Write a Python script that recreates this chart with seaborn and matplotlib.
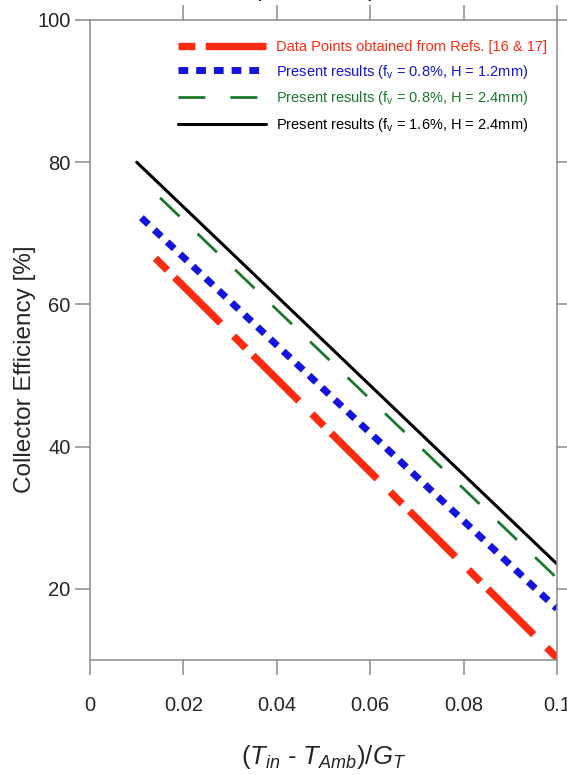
import matplotlib
matplotlib.use("Agg")
import matplotlib.pyplot as plt
import seaborn as sns
import pandas as pd

# ---- data ----
x_ref = [0.014, 0.1]
y_ref = [66.5, 10.3]
x_h12 = [0.011, 0.1]
y_h12 = [72.2, 17.2]
x_h24 = [0.015, 0.1]
y_h24 = [75.0, 21.5]
x_f16 = [0.010, 0.1]
y_f16 = [80.0, 23.5]

labels = [
    "Data Points obtained from Refs. [16 & 17]",
    r"Present results (f$_\mathregular{v}$ = 0.8%, H = 1.2mm)",
    r"Present results (f$_\mathregular{v}$ = 0.8%, H = 2.4mm)",
    r"Present results (f$_\mathregular{v}$ = 1.6%, H = 2.4mm)",
]
x_ticks = [0, 0.02, 0.04, 0.06, 0.08, 0.1]
x_ticklabels = ["0", "0.02", "0.04", "0.06", "0.08", "0.1"]
y_ticks = [20, 40, 60, 80, 100]
y_ticklabels = ["20", "40", "60", "80", "100"]

sns.set_style("white")
plt.rcParams["font.family"] = ["Liberation Sans", "DejaVu Sans"]
plt.rcParams["mathtext.fontset"] = "custom"
plt.rcParams["mathtext.rm"] = "Liberation Sans"
plt.rcParams["mathtext.it"] = "Liberation Sans:italic"

fig = plt.figure(figsize=(5.67, 7.75), dpi=100)
ax = fig.add_axes([90 / 567, 1 - 660 / 775, 467 / 567, 640 / 775])

red = "#ff2a10"
blue = "#1414dc"
green = "#1b7a2c"
black = "#000000"

series = [
    (x_ref, y_ref, labels[0], red, 5.3, (0, (2.3, 1.4, 8.8, 2.5))),
    (x_h12, y_h12, labels[1], blue, 5.0, (0, (1.4, 1.15))),
    (x_h24, y_h24, labels[2], green, 2.0, (0, (9.7, 9.0))),
    (x_f16, y_f16, labels[3], black, 2.2, "-"),
]
for xs, ys, lab, col, lw, ls in series:
    df = pd.DataFrame({"x": xs, "y": ys})
    sns.lineplot(data=df, x="x", y="y", ax=ax, color=col, lw=lw,
                 linestyle=ls, label=lab)

ax.set_xlim(0, 0.1)
ax.set_ylim(10, 100)
ax.set_xticks(x_ticks)
ax.set_xticklabels(x_ticklabels)
ax.set_yticks(y_ticks)
ax.set_yticklabels(y_ticklabels)

spine_col = "#8a8a8a"
for s in ax.spines.values():
    s.set_color(spine_col)
    s.set_linewidth(1.1)
    s.set_visible(True)

ax.tick_params(axis="x", direction="out", length=11, width=1.1, color=spine_col,
               pad=15, labelsize=14.5, bottom=True)
ax.tick_params(axis="y", direction="out", length=10.5, width=1.1, color=spine_col,
               pad=3.5, labelsize=14.5, left=True, right=True)

sec = ax.secondary_xaxis("top")
sec.set_xticks(x_ticks[1:])
sec.set_xticklabels([])
sec.tick_params(direction="out", length=11, width=1.1, color=spine_col)
sec.spines["top"].set_visible(False)

ax.set_ylabel("Collector Efficiency [%]", fontsize=17.5)
ax.yaxis.set_label_coords((36 - 90) / 467, (660 - 369) / 640)
ax.set_xlabel(r"$(T_{in}$ - $T_{Amb})/G_T$", fontsize=18.5, labelpad=20)

leg = ax.legend(loc="upper right", frameon=False, fontsize=10.5,
                handlelength=6.0, handletextpad=0.7, labelspacing=0.6,
                borderaxespad=0.3, bbox_to_anchor=(1.0, 0.985))
for txt, (_, _, _, col, _, _) in zip(leg.get_texts(), series):
    txt.set_color(col)

# cropped duplicate of the x-label peeking in at the very top of the image
fig.text(335 / 567, 1.0 + 4 / 775, r"$(T_{in}$ - $T_{Amb})/G_T$", fontsize=18.5,
         ha="center", va="baseline")

fig.savefig("out.png", dpi=100)
